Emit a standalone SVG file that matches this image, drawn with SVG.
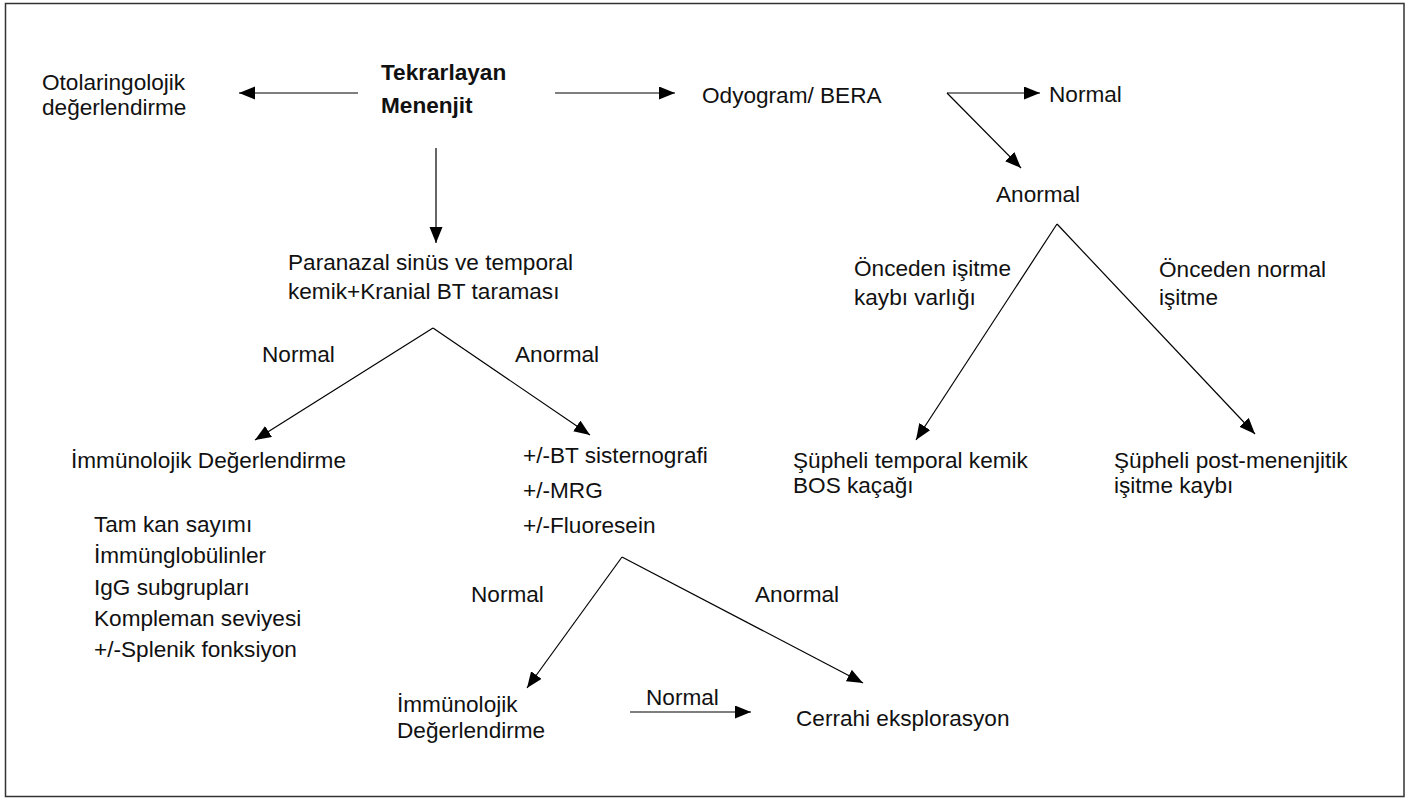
<svg xmlns="http://www.w3.org/2000/svg" width="1410" height="799" viewBox="0 0 1410 799">
<style>
text{font-family:"Liberation Sans",Arial,Helvetica,sans-serif;font-size:22.6px;fill:#111}
.b{font-weight:bold}
.c{stroke:#000;stroke-width:1.2;fill:none;marker-end:url(#ah)}
</style>
<defs>
<marker id="ah" markerUnits="userSpaceOnUse" markerWidth="18" markerHeight="14" refX="16" refY="6.5" orient="auto">
<path d="M0,0 L16,6.5 L0,13 Z" fill="#000"/>
</marker>
</defs>
<rect x="5.5" y="3.5" width="1398.5" height="793" fill="#fff" stroke="#333" stroke-width="1.5"/>
<g id="connectors">
<line class="c" x1="358" y1="93" x2="239" y2="93"/>
<line class="c" x1="555" y1="93" x2="675" y2="93"/>
<line class="c" x1="436" y1="148" x2="436" y2="243"/>
<line class="c" x1="947" y1="93" x2="1040" y2="93"/>
<line class="c" x1="947" y1="93" x2="1021" y2="168"/>
<line class="c" x1="1057" y1="224" x2="916" y2="440"/>
<line class="c" x1="1057" y1="224" x2="1255" y2="434"/>
<line class="c" x1="433" y1="328" x2="255" y2="440"/>
<line class="c" x1="433" y1="328" x2="590" y2="435"/>
<line class="c" x1="622" y1="557" x2="527" y2="688"/>
<line class="c" x1="622" y1="557" x2="863" y2="683"/>
<line class="c" x1="630" y1="712" x2="751" y2="712"/>
</g>
<g id="otolaringolojik"><text x="42" y="90">Otolaringolojik</text><text x="42" y="115">değerlendirme</text></g>
<g id="tekrarlayan"><text class="b" x="381" y="80">Tekrarlayan</text><text class="b" x="381" y="113">Menenjit</text></g>
<g id="odyogram"><text x="702" y="103">Odyogram/ BERA</text></g>
<g id="odyo-normal"><text x="1049" y="102">Normal</text></g>
<g id="odyo-anormal"><text x="996" y="202">Anormal</text></g>
<g id="paranazal"><text x="288" y="270">Paranazal sinüs ve temporal</text><text x="288" y="299">kemik+Kranial BT taraması</text></g>
<g id="lbl-ct-normal"><text x="262" y="362">Normal</text></g>
<g id="lbl-ct-anormal"><text x="515" y="362">Anormal</text></g>
<g id="lbl-onceden-kayip"><text x="854" y="276">Önceden işitme</text><text x="854" y="305">kaybı varlığı</text></g>
<g id="lbl-onceden-normal"><text x="1159" y="277">Önceden normal</text><text x="1159" y="305">işitme</text></g>
<g id="immunolojik1"><text x="71" y="468">İmmünolojik Değerlendirme</text></g>
<g id="sisternografi"><text x="523" y="463">+/-BT sisternografi</text><text x="523" y="498">+/-MRG</text><text x="523" y="533">+/-Fluoresein</text></g>
<g id="bos"><text x="793" y="468">Şüpheli temporal kemik</text><text x="793" y="493">BOS kaçağı</text></g>
<g id="post"><text x="1114" y="468">Şüpheli post-menenjitik</text><text x="1114" y="493">işitme kaybı</text></g>
<g id="liste"><text x="94" y="532">Tam kan sayımı</text><text x="94" y="563">İmmünglobülinler</text><text x="94" y="595">IgG subgrupları</text><text x="94" y="626">Kompleman seviyesi</text><text x="94" y="657">+/-Splenik fonksiyon</text></g>
<g id="lbl-low-normal"><text x="471" y="602">Normal</text></g>
<g id="lbl-low-anormal"><text x="755" y="602">Anormal</text></g>
<g id="immunolojik2"><text x="397" y="712">İmmünolojik</text><text x="397" y="738">Değerlendirme</text></g>
<g id="lbl-arrow-normal"><text x="646" y="705">Normal</text></g>
<g id="cerrahi"><text x="796" y="726">Cerrahi eksplorasyon</text></g>
</svg>
